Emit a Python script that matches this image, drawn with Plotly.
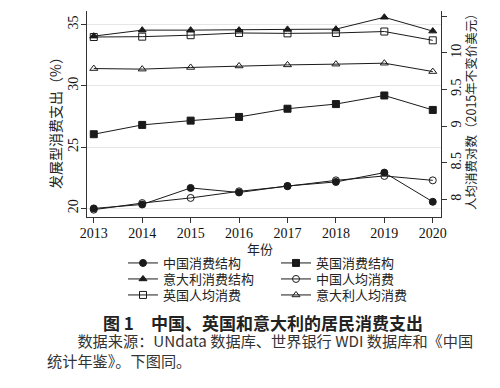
import plotly.graph_objects as go

years = [2013, 2014, 2015, 2016, 2017, 2018, 2019, 2020]

# 发展型消费支出 (%) - left axis
china_struct = [20.0, 20.32, 21.67, 21.30, 21.83, 22.16, 22.92, 20.54]
uk_struct = [26.05, 26.81, 27.16, 27.46, 28.13, 28.51, 29.21, 28.03]
italy_struct = [34.05, 34.54, 34.54, 34.54, 34.60, 34.62, 35.59, 34.46]

# 人均消费对数 - right axis
china_pc = [7.86, 7.95, 8.02, 8.11, 8.18, 8.26, 8.32, 8.26]
uk_pc = [10.215, 10.22, 10.24, 10.27, 10.265, 10.27, 10.29, 10.17]
italy_pc = [9.785, 9.777, 9.80, 9.82, 9.835, 9.845, 9.858, 9.744]

names = ["中国消费结构", "英国消费结构", "意大利消费结构", "中国人均消费", "英国人均消费", "意大利人均消费"]

SERIF = "Liberation Serif, Times New Roman, serif"
CJK = "Noto Sans CJK SC, sans-serif"
LINE = "#1a1a1a"

# page body has an 8px margin, so the figure is drawn 8px in from the window edge
OFF = 8
W, H = 500 - OFF, 388 - OFF
ML, MT = 87 - OFF, 11 - OFF
MR = W - (441 - OFF)
MB = H - (217 - OFF)
PW, PH = W - ML - MR, H - MT - MB


def px(sx):
    return (sx - OFF - ML) / PW


def py(sy):
    return (H - MB - (sy - OFF)) / PH


fig = go.Figure()
series = [
    (china_struct, "circle", "y", "legend"),
    (uk_struct, "square", "y", "legend"),
    (italy_struct, "triangle-up", "y", "legend2"),
    (china_pc, "circle-open", "y2", "legend2"),
    (uk_pc, "square-open", "y2", "legend3"),
    (italy_pc, "triangle-up-open", "y2", "legend3"),
]
for (vals, sym, ax, lg), nm in zip(series, names):
    fig.add_trace(go.Scatter(
        x=years, y=vals, name=nm, yaxis=ax, legend=lg, mode="lines+markers",
        line=dict(color=LINE, width=1),
        marker=dict(symbol=sym, size=7, color=LINE, line=dict(color=LINE, width=1)),
    ))


def legend_row(ypix):
    return dict(
        orientation="h", x=px(123), xanchor="left",
        y=py(ypix), yanchor="middle",
        font=dict(family=CJK, size=13, color="#222"),
        entrywidth=108, entrywidthmode="pixels",
        itemsizing="trace", bgcolor="rgba(0,0,0,0)",
    )


def ann(text, x, y, size, anchor="center", angle=0, color="#222", align="center"):
    return dict(text=text, x=px(x), y=py(y), xref="paper", yref="paper",
                xanchor=anchor, yanchor="middle", showarrow=False, textangle=angle,
                align=align, font=dict(family=CJK, size=size, color=color))


fig.update_layout(
    width=W, height=H,
    margin=dict(l=ML, r=MR, t=MT, b=MB, autoexpand=False),
    paper_bgcolor="white", plot_bgcolor="white",
    showlegend=True,
    legend=legend_row(263),
    legend2=legend_row(279),
    legend3=legend_row(295),
    xaxis=dict(
        range=[2012.86, 2020.17], tickvals=years,
        showline=True, linecolor="#333", linewidth=1,
        ticks="outside", ticklen=5, tickcolor="#333",
        showgrid=False, zeroline=False, automargin=False, ticklabelstandoff=-2,
        tickfont=dict(family=SERIF, size=14, color="#111"),
    ),
    yaxis=dict(
        range=[19.3, 36.1], tickvals=[20, 25, 30, 35],
        showline=True, linecolor="#333", linewidth=1,
        ticks="outside", ticklen=5, tickcolor="#333",
        showgrid=True, gridcolor="#e6e6e6", gridwidth=1, zeroline=False,
        tickangle=-90, automargin=False, ticklabelstandoff=-3,
        tickfont=dict(family=SERIF, size=14, color="#111"),
    ),
    yaxis2=dict(
        overlaying="y", side="right",
        range=[7.76, 10.57], tickvals=[8, 8.5, 9, 9.5, 10, 10.5],
        showline=True, linecolor="#333", linewidth=1,
        ticks="outside", ticklen=5, tickcolor="#333",
        showgrid=False, zeroline=False,
        tickangle=-90, automargin=False, ticklabelstandoff=-3,
        tickfont=dict(family=SERIF, size=14, color="#111"),
    ),
    annotations=[
        ann("年份", 260, 248, 13),
        ann("发展型消费支出（%）", 55, 120, 14, angle=-90),
        ann("人均消费对数（2015年不变价美元）", 470, 109, 12.5, angle=-90),
        ann("<b>图 1　中国、英国和意大利的居民消费支出</b>", 263, 322, 17),
        ann("　　数据来源：UNdata 数据库、世界银行 WDI 数据库和《中国<br>统计年鉴》。下图同。",
            45, 349.5, 15.2, anchor="left", color="#333", align="left"),
    ],
)

fig.write_html("out.html")
